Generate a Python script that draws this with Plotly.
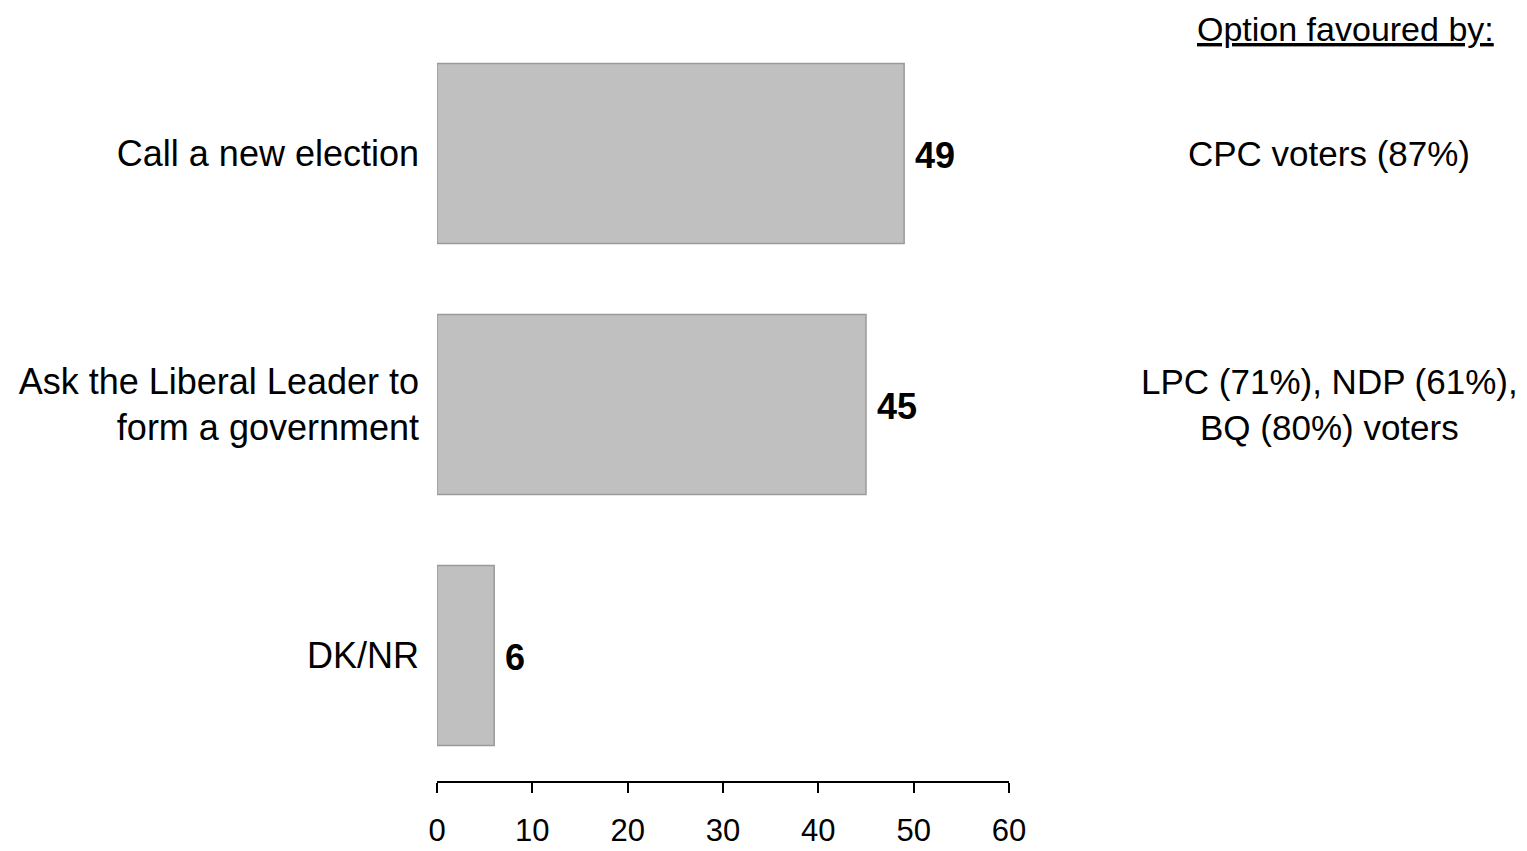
import plotly.graph_objects as go

categories = ["Call a new election", "Ask the Liberal Leader to<br>form a government", "DK/NR"]
values = [49, 45, 6]
favoured_by = ["CPC voters (87%)", "LPC (71%), NDP (61%),<br>BQ (80%) voters", ""]
header_text = "Option favoured by:"
x_ticks = [0, 10, 20, 30, 40, 50, 60]

FONT = "Liberation Sans, Arial, sans-serif"

fig = go.Figure(
    go.Bar(
        x=values,
        y=categories,
        orientation="h",
        marker=dict(color="#C0C0C0", line=dict(color="#9A9A9A", width=1.5)),
        hoverinfo="skip",
    )
)

annotations = []
for cat, val in zip(categories, values):
    annotations.append(dict(
        x=val, y=cat, xref="x", yref="y", text=f"<b>{val}</b>",
        showarrow=False, xanchor="left", yanchor="middle", xshift=9, yshift=-2,
        font=dict(family=FONT, size=36, color="black"),
    ))
for cat, note in zip(categories, favoured_by):
    if note:
        annotations.append(dict(
            x=1.5595, y=cat, xref="paper", yref="y", text=note,
            showarrow=False, xanchor="center", yanchor="middle", align="center",
            font=dict(family=FONT, size=35, color="black"),
        ))
annotations.append(dict(
    x=1.852, y=1.0262, xref="paper", yref="paper", text=f"<u>{header_text}</u>",
    showarrow=False, xanchor="right", yanchor="top",
    font=dict(family=FONT, size=34, color="black"),
))

fig.update_layout(
    width=1527, height=851,
    margin=dict(l=429, r=526, t=20, b=78),
    plot_bgcolor="white", paper_bgcolor="white",
    bargap=0.283,
    showlegend=False,
    font=dict(family=FONT, color="black"),
    annotations=annotations,
    xaxis=dict(
        range=[0, 60], tickvals=x_ticks, ticktext=[str(t) for t in x_ticks],
        showline=True, linecolor="black", linewidth=1.5,
        ticks="outside", ticklen=10, tickwidth=1.5, tickcolor="black",
        showgrid=False, zeroline=False, automargin=False,
        tickfont=dict(family=FONT, size=31, color="black"),
        ticklabelstandoff=11,
    ),
    yaxis=dict(
        categoryorder="array", categoryarray=categories,
        range=[2.5, -0.5],
        showline=False, ticks="", showgrid=False, zeroline=False, automargin=False,
        tickfont=dict(family=FONT, size=36, color="black"),
        ticklabelstandoff=17,
    ),
)

fig.write_html("out.html")
